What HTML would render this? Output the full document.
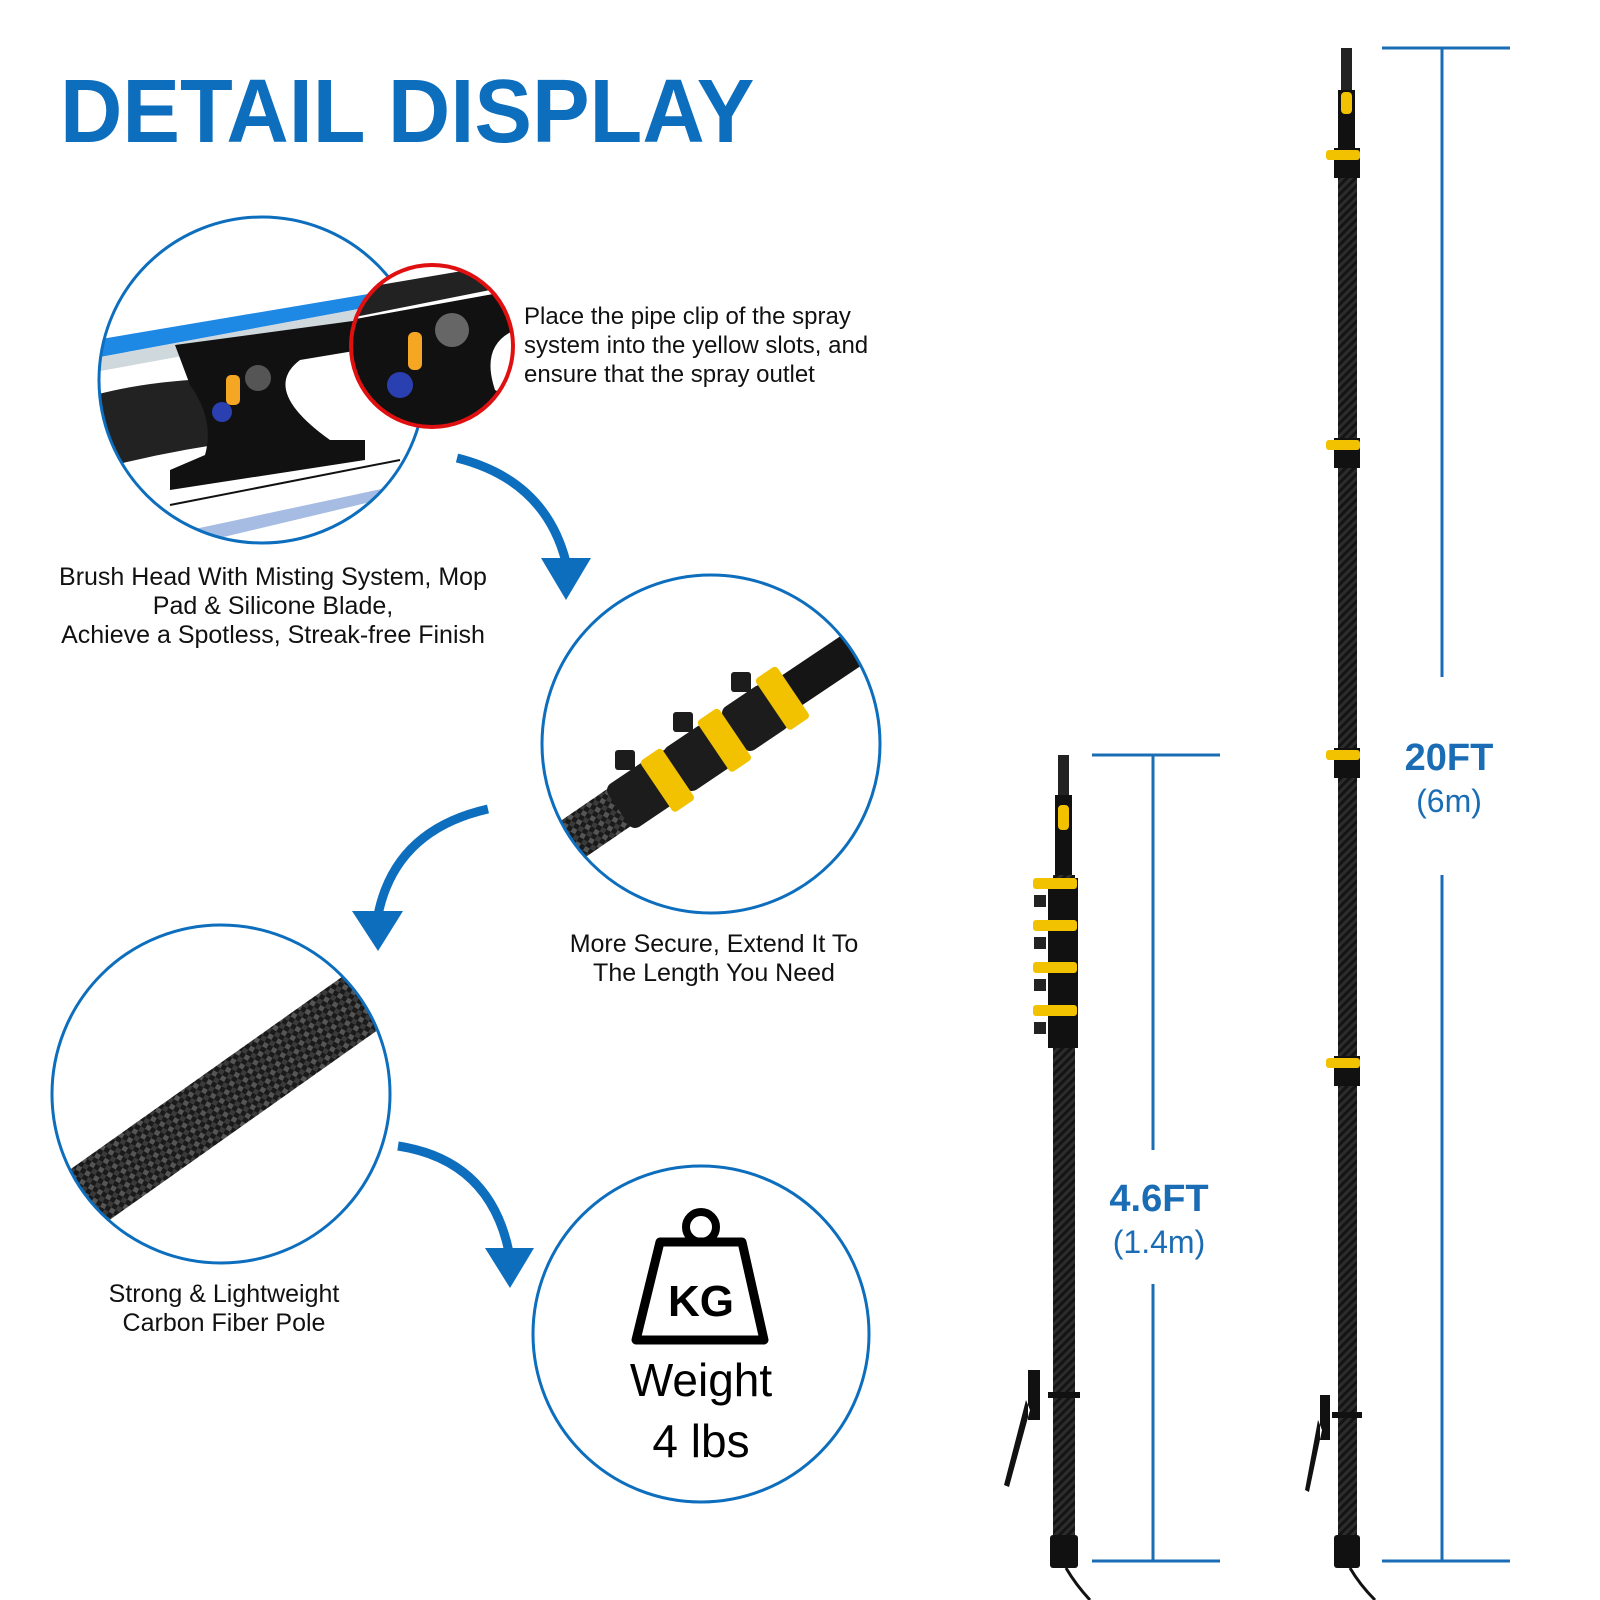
<!DOCTYPE html>
<html><head><meta charset="utf-8"><style>
html,body{margin:0;padding:0;background:#fff;}
svg{display:block;}
text{font-family:"Liberation Sans",Arial,sans-serif;}
</style></head><body>
<svg width="1600" height="1600" viewBox="0 0 1600 1600" xmlns="http://www.w3.org/2000/svg">
<defs>
<pattern id="cf" width="10" height="10" patternUnits="userSpaceOnUse" patternTransform="rotate(30)">
<rect width="10" height="10" fill="#1a1a1a"/><rect width="5" height="5" fill="#555"/><rect x="5" y="5" width="5" height="5" fill="#3a3a3a"/>
</pattern>
<pattern id="cfp" width="6" height="6" patternUnits="userSpaceOnUse" patternTransform="rotate(45)">
<rect width="6" height="6" fill="#141414"/><rect width="3" height="6" fill="#2c2c2c"/>
</pattern>
<clipPath id="c1"><circle cx="262" cy="380" r="163"/></clipPath>
<clipPath id="c1r"><circle cx="432" cy="346" r="81"/></clipPath>
<clipPath id="c2"><circle cx="711" cy="744" r="169"/></clipPath>
<clipPath id="c3"><circle cx="221" cy="1094" r="169"/></clipPath>
</defs>

<text x="60" y="142" font-size="90" font-weight="bold" fill="#0d6ebd" transform="translate(60 0) scale(0.96 1) translate(-60 0)">DETAIL DISPLAY</text>

<!-- Circle 1 -->
<g clip-path="url(#c1)">
<rect x="90" y="200" width="340" height="360" fill="#fff"/>
<polygon points="95,340 380,292 380,305 95,358" fill="#1e88e5"/>
<polygon points="95,358 380,305 380,320 95,372" fill="#cfd8dc"/>
<path d="M95,395 Q150,380 230,378 L250,440 Q170,450 95,470 Z" fill="#222"/>
<path d="M175,345 L360,320 L360,350 L300,360 Q260,390 330,440 L365,440 L365,460 L170,490 L170,470 L205,455 Q215,420 190,385 Z" fill="#111"/>
<rect x="226" y="375" width="14" height="30" fill="#f5a623" rx="5"/>
<circle cx="258" cy="378" r="13" fill="#555"/>
<circle cx="222" cy="412" r="10" fill="#2a3fb0"/>
<line x1="170" y1="505" x2="400" y2="460" stroke="#111" stroke-width="2"/>
<polygon points="190,530 400,485 400,495 190,545" fill="#6a8fd0" opacity="0.6"/>
</g>
<circle cx="262" cy="380" r="163" fill="none" stroke="#0d6ebd" stroke-width="3"/>
<g clip-path="url(#c1r)">
<rect x="350" y="264" width="165" height="165" fill="#fff"/>
<polygon points="350,290 515,262 515,285 350,318" fill="#222"/>
<path d="M350,320 L515,290 L515,330 Q480,345 495,390 L515,400 L515,430 L350,430 Z" fill="#111"/>
<rect x="408" y="332" width="14" height="38" rx="6" fill="#f5a623"/>
<circle cx="452" cy="330" r="17" fill="#666"/>
<circle cx="400" cy="385" r="13" fill="#2a3fb0"/>
</g>
<circle cx="432" cy="346" r="81" fill="none" stroke="#e01010" stroke-width="4"/>

<text font-size="24" fill="#111"><tspan x="524" y="324">Place the pipe clip of the spray</tspan><tspan x="524" y="353">system into the yellow slots, and</tspan><tspan x="524" y="382">ensure that the spray outlet</tspan></text>

<text font-size="25" fill="#111" text-anchor="middle"><tspan x="273" y="585">Brush Head With Misting System, Mop</tspan><tspan x="273" y="614">Pad &amp; Silicone Blade,</tspan><tspan x="273" y="643">Achieve a Spotless, Streak-free Finish</tspan></text>

<!-- arrows -->
<path d="M457,458 Q545,480 566,562" fill="none" stroke="#0d6ebd" stroke-width="9"/>
<polygon points="541,558 591,558 566,600" fill="#0d6ebd"/>
<path d="M488,809 Q395,830 378,915" fill="none" stroke="#0d6ebd" stroke-width="9"/>
<polygon points="352,911 403,911 378,951" fill="#0d6ebd"/>
<path d="M398,1146 Q490,1160 509,1252" fill="none" stroke="#0d6ebd" stroke-width="9"/>
<polygon points="485,1248 534,1248 510,1288" fill="#0d6ebd"/>

<!-- Circle 2 -->
<g clip-path="url(#c2)">
<line x1="560" y1="848" x2="700" y2="752" stroke="url(#cf)" stroke-width="44"/>
<line x1="700" y1="752" x2="870" y2="638" stroke="#151515" stroke-width="36"/>
<g fill="#1c1c1c">
<rect x="-26" y="-26" width="52" height="52" rx="8" transform="translate(640,795) rotate(-34)"/>
<rect x="-26" y="-26" width="52" height="52" rx="8" transform="translate(697,758) rotate(-34)"/>
<rect x="-26" y="-26" width="52" height="52" rx="8" transform="translate(755,718) rotate(-34)"/>
</g>
<g fill="#f2c200">
<rect x="-12" y="-30" width="26" height="62" rx="4" transform="translate(666,780) rotate(-34)"/>
<rect x="-12" y="-30" width="26" height="62" rx="4" transform="translate(723,740) rotate(-34)"/>
<rect x="-12" y="-30" width="26" height="62" rx="4" transform="translate(781,698) rotate(-34)"/>
</g>
<g fill="#1c1c1c"><rect x="615" y="750" width="20" height="20" rx="3"/><rect x="673" y="712" width="20" height="20" rx="3"/><rect x="731" y="672" width="20" height="20" rx="3"/></g>
</g>
<circle cx="711" cy="744" r="169" fill="none" stroke="#0d6ebd" stroke-width="3"/>
<text font-size="25" fill="#111" text-anchor="middle"><tspan x="714" y="952">More Secure, Extend It To</tspan><tspan x="714" y="981">The Length You Need</tspan></text>

<!-- Circle 3 -->
<g clip-path="url(#c3)">
<line x1="40" y1="1230" x2="400" y2="975" stroke="url(#cf)" stroke-width="64"/>
</g>
<circle cx="221" cy="1094" r="169" fill="none" stroke="#0d6ebd" stroke-width="3"/>
<text font-size="25" fill="#111" text-anchor="middle"><tspan x="224" y="1302">Strong &amp; Lightweight</tspan><tspan x="224" y="1331">Carbon Fiber Pole</tspan></text>

<!-- Circle 4 -->
<circle cx="701" cy="1334" r="168" fill="none" stroke="#0d6ebd" stroke-width="3"/>
<circle cx="701" cy="1227" r="15" fill="none" stroke="#000" stroke-width="8"/>
<path d="M660,1242 L742,1242 L764,1340 L636,1340 Z" fill="none" stroke="#000" stroke-width="9" stroke-linejoin="round"/>
<text x="701" y="1316" font-size="44" font-weight="bold" text-anchor="middle" fill="#000">KG</text>
<text x="701" y="1396" font-size="46" text-anchor="middle" fill="#000">Weight</text>
<text x="701" y="1457" font-size="46" text-anchor="middle" fill="#000">4 lbs</text>

<!-- dimension lines -->
<g stroke="#1a6db5" stroke-width="3">
<line x1="1382" y1="48" x2="1510" y2="48"/><line x1="1442" y1="48" x2="1442" y2="677"/><line x1="1442" y1="875" x2="1442" y2="1561"/><line x1="1382" y1="1561" x2="1510" y2="1561"/>
<line x1="1092" y1="755" x2="1220" y2="755"/><line x1="1153" y1="755" x2="1153" y2="1150"/><line x1="1153" y1="1284" x2="1153" y2="1561"/><line x1="1092" y1="1561" x2="1220" y2="1561"/>
</g>
<text x="1449" y="770" font-size="38" font-weight="bold" fill="#1a6db5" text-anchor="middle">20FT</text>
<text x="1449" y="812" font-size="32" fill="#1a6db5" text-anchor="middle">(6m)</text>
<text x="1159" y="1211" font-size="38" font-weight="bold" fill="#1a6db5" text-anchor="middle">4.6FT</text>
<text x="1159" y="1253" font-size="32" fill="#1a6db5" text-anchor="middle">(1.4m)</text>

<!-- tall pole -->
<g>
<rect x="1341" y="48" width="11" height="45" fill="#222"/>
<rect x="1338" y="90" width="17" height="65" fill="#111"/>
<rect x="1341" y="92" width="11" height="22" rx="4" fill="#f2c200"/>
<rect x="1338" y="155" width="19" height="1410" fill="url(#cfp)"/>
<g fill="#111"><rect x="1334" y="148" width="26" height="30"/><rect x="1334" y="438" width="26" height="30"/><rect x="1334" y="748" width="26" height="30"/><rect x="1334" y="1056" width="26" height="30"/></g>
<g fill="#f2c200"><rect x="1326" y="150" width="34" height="10" rx="3"/><rect x="1326" y="440" width="34" height="10" rx="3"/><rect x="1326" y="750" width="34" height="10" rx="3"/><rect x="1326" y="1058" width="34" height="10" rx="3"/></g>
<rect x="1334" y="1535" width="26" height="33" rx="3" fill="#111"/>
<rect x="1332" y="1412" width="30" height="6" fill="#111"/>
<path d="M1320,1395 L1330,1395 L1330,1440 L1320,1440 Z M1318,1420 L1305,1490 L1309,1492 L1322,1430 Z" fill="#111"/>
<path d="M1350,1568 Q1360,1585 1375,1600" stroke="#111" stroke-width="3" fill="none"/>
</g>
<!-- short pole -->
<g>
<rect x="1058" y="755" width="11" height="40" fill="#222"/>
<rect x="1055" y="795" width="17" height="80" fill="#111"/>
<rect x="1058" y="805" width="11" height="25" rx="4" fill="#f2c200"/>
<rect x="1053" y="875" width="22" height="690" fill="url(#cfp)"/>
<g fill="#111"><rect x="1048" y="878" width="30" height="170"/></g>
<g fill="#f2c200"><rect x="1033" y="878" width="44" height="11" rx="3"/><rect x="1033" y="920" width="44" height="11" rx="3"/><rect x="1033" y="962" width="44" height="11" rx="3"/><rect x="1033" y="1005" width="44" height="11" rx="3"/></g>
<g fill="#222"><rect x="1034" y="895" width="12" height="12"/><rect x="1034" y="937" width="12" height="12"/><rect x="1034" y="979" width="12" height="12"/><rect x="1034" y="1022" width="12" height="12"/></g>
<rect x="1050" y="1535" width="28" height="33" rx="3" fill="#111"/>
<rect x="1048" y="1392" width="32" height="6" fill="#111"/>
<path d="M1028,1370 L1040,1370 L1040,1420 L1028,1420 Z M1026,1400 L1004,1485 L1009,1487 L1030,1410 Z" fill="#111"/>
<path d="M1066,1568 Q1076,1585 1090,1600" stroke="#111" stroke-width="3" fill="none"/>
</g>
</svg>
</body></html>
